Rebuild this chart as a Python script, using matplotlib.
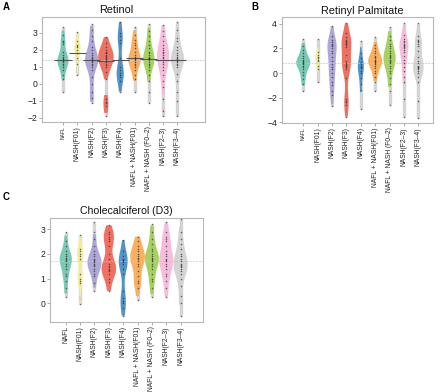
import matplotlib
matplotlib.use("Agg")
import matplotlib.pyplot as plt
import numpy as np
from matplotlib import mlab

plt.rcParams['font.family'] = ['Liberation Sans', 'DejaVu Sans']

groups = ["NAFL", "NASH(F01)", "NASH(F2)", "NASH(F3)", "NASH(F4)",
          "NAFL + NASH(F01)", "NAFL + NASH (F0–2)", "NASH(F2–3)", "NASH(F3–4)"]

# ---- Panel A: Retinol ----
retinol_nafl = [3.35, 2.9, 2.55, 2.45, 2.35, 1.9, 1.7, 1.6, 1.5, 1.45, 1.4, 1.35, 1.3, 1.2, 1.1, 1.0, 0.85, 0.5, 0.3, -0.5]
retinol_f01 = [3.05, 2.5, 2.3, 2.25, 2.15, 2.0, 1.8, 1.5, 1.2, 0.55]
retinol_f2 = [3.5, 3.2, 2.8, 2.5, 2.2, 2.0, 1.8, 1.7, 1.6, 1.5, 1.45, 1.4, 1.35, 1.3, 1.2, 1.1, 1.0, 0.8, 0.4, 0.0, -0.5, -0.8, -1.1]
retinol_f3 = [2.75, 2.4, 2.2, 2.0, 1.9, 1.85, 1.8, 1.7, 1.65, 1.6, 1.5, 1.45, 1.4, 1.3, 1.2, 1.1, 1.0, 0.7, 0.3, -0.9, -1.05, -1.15, -1.3, -1.9]
retinol_f4 = [3.65, 3.0, 2.8, 2.6, 2.4, 1.5, 1.0, 0.8, 0.65, 0.5, 0.4, 0.2, -0.45]
retinol_nafl_f01 = [3.35, 2.9, 2.6, 2.4, 2.3, 2.1, 1.9, 1.7, 1.6, 1.55, 1.5, 1.45, 1.4, 1.3, 1.2, 1.1, 1.0, 0.8, 0.5, 0.3, -0.45]
retinol_f02 = [3.55, 3.1, 2.8, 2.5, 2.3, 2.1, 1.9, 1.8, 1.7, 1.6, 1.55, 1.5, 1.45, 1.4, 1.3, 1.2, 1.1, 1.0, 0.8, 0.5, 0.2, -0.5, -1.1]
retinol_f23 = [3.45, 3.1, 2.8, 2.5, 2.3, 2.1, 2.0, 1.9, 1.8, 1.7, 1.6, 1.5, 1.4, 1.3, 1.2, 1.0, 0.8, 0.5, 0.2, -0.2, -0.9, -1.6, -1.9]
retinol_f34 = [3.65, 3.2, 2.7, 2.5, 2.2, 2.0, 1.8, 1.7, 1.6, 1.5, 1.45, 1.4, 1.35, 1.3, 1.2, 1.1, 1.0, 0.6, 0.2, -0.5, -1.0, -1.9]
retinol_group_means = [1.4, 1.8, 1.4, 1.35, 1.4, 1.52, 1.45, 1.4, 1.38]
retinol_overall = 1.4

# ---- Panel B: Retinyl Palmitate ----
palm_nafl = [2.8, 2.2, 1.9, 1.6, 1.4, 1.2, 1.1, 1.0, 0.9, 0.85, 0.8, 0.7, 0.6, 0.5, 0.3, 0.1, -0.2, -0.5, -0.9, -1.5]
palm_f01 = [2.8, 1.7, 1.5, 1.3, 1.2, 1.1, 1.0, 0.6, 0.3, -0.7]
palm_f2 = [3.8, 3.0, 2.7, 2.5, 2.4, 2.3, 2.2, 2.0, 1.8, 1.6, 1.3, 1.0, 0.7, 0.5, 0.3, 0.0, -0.3, -0.7, -1.0, -1.5, -1.8, -2.7]
palm_f3 = [4.05, 3.3, 2.9, 2.7, 2.6, 2.5, 2.45, 2.4, 2.3, 2.1, 1.5, 1.0, 0.8, 0.7, 0.65, 0.6, 0.5, 0.3, -0.4, -2.1, -2.3, -2.4, -2.6, -3.55]
palm_f4 = [2.65, 1.6, 1.2, 0.9, 0.7, 0.6, 0.5, 0.4, 0.2, 0.0, -0.4, -0.9, -1.4, -2.9]
palm_nafl_f01 = [2.95, 2.3, 2.0, 1.8, 1.6, 1.4, 1.3, 1.2, 1.1, 1.0, 0.95, 0.9, 0.8, 0.7, 0.6, 0.4, 0.2, 0.0, -0.3, -0.7, -1.5]
palm_f02 = [3.75, 3.0, 2.7, 2.4, 2.2, 2.0, 1.8, 1.6, 1.5, 1.4, 1.3, 1.2, 1.1, 1.0, 0.9, 0.8, 0.6, 0.4, 0.2, 0.0, -0.4, -0.9, -1.5, -2.6]
palm_f23 = [4.05, 3.1, 2.8, 2.6, 2.5, 2.4, 2.3, 2.2, 2.1, 2.0, 1.9, 1.7, 1.4, 1.1, 0.8, 0.5, 0.2, -0.3, -0.7, -2.1, -3.55]
palm_f34 = [4.05, 3.0, 2.7, 2.6, 2.5, 2.4, 2.2, 1.8, 1.3, 1.0, 0.8, 0.6, 0.5, 0.45, 0.4, 0.3, 0.2, 0.0, -0.3, -0.7, -2.3, -3.7]
palm_overall = 0.8

# ---- Panel C: Cholecalciferol (D3) ----
d3_nafl = [2.9, 2.5, 2.3, 2.1, 2.0, 1.9, 1.85, 1.8, 1.75, 1.7, 1.6, 1.5, 1.4, 1.2, 1.1, 0.9, 0.6, 0.25]
d3_f01 = [2.75, 2.2, 2.1, 2.0, 1.9, 1.8, 1.2, 1.0, 0.9, 0.8, -0.05]
d3_f2 = [3.3, 2.9, 2.6, 2.3, 2.1, 2.0, 1.9, 1.8, 1.75, 1.7, 1.65, 1.6, 1.55, 1.5, 1.4, 1.3, 1.2, 1.1, 0.8, 0.5]
d3_f3 = [3.15, 2.9, 2.8, 2.7, 2.6, 2.5, 2.3, 2.0, 1.8, 1.6, 1.5, 1.45, 1.4, 1.35, 1.3, 1.2, 1.0, 0.85, 0.5]
d3_f4 = [2.55, 2.1, 1.9, 1.8, 1.75, 1.7, 1.65, 1.6, 1.4, 1.2, 0.5, 0.2, 0.1, 0.0, -0.2, -0.5]
d3_nafl_f01 = [2.7, 2.5, 2.3, 2.2, 2.1, 2.0, 1.9, 1.85, 1.8, 1.7, 1.6, 1.5, 1.3, 1.1, 0.9, 0.8, 0.6, 0.15]
d3_f02 = [3.2, 2.9, 2.6, 2.4, 2.2, 2.1, 2.0, 1.9, 1.85, 1.8, 1.75, 1.7, 1.6, 1.5, 1.4, 1.2, 1.0, 0.9, 0.6, 0.25]
d3_f23 = [3.3, 2.9, 2.7, 2.6, 2.5, 2.3, 2.1, 2.0, 1.9, 1.8, 1.75, 1.7, 1.6, 1.5, 1.4, 1.2, 1.1, 0.9, 0.6, 0.25]
d3_f34 = [3.4, 2.9, 2.6, 2.4, 2.2, 2.0, 1.9, 1.8, 1.7, 1.6, 1.55, 1.5, 1.45, 1.4, 1.3, 1.2, 1.0, 0.7, 0.3, 0.0, -0.5]
d3_overall = 1.72

# ---- styles ----
colors = ['#72c7b1', '#f3ee9c', '#a9a4d6', '#ee6a5c', '#4a8fc6',
          '#fbab58', '#a2d05a', '#f6bbdb', '#d2d2d2']
widths_A = [0.78, 0.45, 0.92, 1.08, 0.5, 0.88, 0.8, 0.85, 0.92]
widths_B = [0.98, 0.36, 0.64, 0.68, 0.42, 0.98, 0.85, 0.62, 0.72]
widths_C = [0.85, 0.44, 0.98, 1.02, 0.62, 1.02, 0.98, 0.98, 0.98]

fig = plt.figure(figsize=(4.4, 3.92), dpi=100)
W, H = 440.0, 392.0


def make_ax(l, r, t, b):
    return fig.add_axes([l / W, 1 - b / H, (r - l) / W, (b - t) / H])


def draw_panel(ax, data, widths, ylim, xlim, yticks, overall, small_first, means=None):
    pos = list(range(1, len(data) + 1))
    for p, d, w, c in zip(pos, data, widths, colors):
        d = np.asarray(d, dtype=float)
        ax.vlines(p, d.min(), d.max(), color='#d4d4d4', lw=2.4, zorder=1)
        kde = mlab.GaussianKDE(d, bw_method=0.38)
        yy = np.linspace(d.min(), d.max(), 400)
        dens = kde.evaluate(yy)
        hw = 0.5 * w * dens / dens.max()
        ax.fill_betweenx(yy, p - hw, p + hw, where=dens >= 0.22 * dens.max(),
                         facecolor=c, edgecolor='none', alpha=0.95, zorder=2)
    ax.axhline(overall, color='#c8c8c8', lw=0.6, ls=(0, (2, 1.5)), zorder=3)
    if means is not None:
        for p, m in zip(pos, means):
            ax.hlines(m, p - 0.6, p + 0.6, color='#555555', lw=0.8, zorder=4)
    for p, d in zip(pos, data):
        ax.scatter([p] * len(d), d, s=1.2, c='#333333', linewidths=0, alpha=0.75, zorder=5)
    ax.set_xlim(*xlim)
    ax.set_ylim(*ylim)
    ax.set_yticks(yticks)
    ax.set_yticklabels([("−" + str(-v)) if v < 0 else str(v) for v in yticks], fontsize=6.2, color='#222222')
    ax.set_xticks(pos)
    ax.set_xticklabels(groups, rotation=90, fontsize=4.85, color='#222222', va='top', ha='center')
    if small_first:
        ax.get_xticklabels()[0].set_fontsize(3.6)
    ax.tick_params(axis='both', length=2, width=0.5, color='#888888', pad=1.5)
    ax.tick_params(axis='x', pad=1.0)
    for s in ax.spines.values():
        s.set_color('#b8b8b8')
        s.set_linewidth(0.8)
    ax.set_facecolor('white')


axA = make_ax(42, 205, 17, 122)
draw_panel(axA,
           [retinol_nafl, retinol_f01, retinol_f2, retinol_f3, retinol_f4,
            retinol_nafl_f01, retinol_f02, retinol_f23, retinol_f34],
           widths_A, (-2.24, 3.94), (-0.47, 10.93), [-2, -1, 0, 1, 2, 3],
           retinol_overall, True, retinol_group_means)

axB = make_ax(282, 433, 17, 123)
draw_panel(axB,
           [palm_nafl, palm_f01, palm_f2, palm_f3, palm_f4,
            palm_nafl_f01, palm_f02, palm_f23, palm_f34],
           widths_B, (-4.08, 4.57), (-0.48, 10.02), [-4, -2, 0, 2, 4],
           palm_overall, True)

axC = make_ax(50, 203, 218, 322)
draw_panel(axC,
           [d3_nafl, d3_f01, d3_f2, d3_f3, d3_f4,
            d3_nafl_f01, d3_f02, d3_f23, d3_f34],
           widths_C, (-0.76, 3.45), (-0.1, 10.56), [0, 1, 2, 3],
           d3_overall, False)

# titles
fig.text(116 / W, 1 - 12.7 / H, "Retinol", fontsize=7.8, ha='center', va='baseline', color='#111111')
fig.text(362 / W, 1 - 14.5 / H, "Retinyl Palmitate", fontsize=7.8, ha='center', va='baseline', color='#111111')
fig.text(126 / W, 1 - 213.7 / H, "Cholecalciferol (D3)", fontsize=7.6, ha='center', va='baseline', color='#111111')

# panel letters
fig.text(3 / W, 1 - 9.5 / H, "A", fontsize=7, fontweight='bold', ha='left', va='baseline')
fig.text(251 / W, 1 - 9.5 / H, "B", fontsize=7, fontweight='bold', ha='left', va='baseline')
fig.text(3 / W, 1 - 200 / H, "C", fontsize=7, fontweight='bold', ha='left', va='baseline')

fig.savefig("out.png", dpi=100, facecolor='white')
